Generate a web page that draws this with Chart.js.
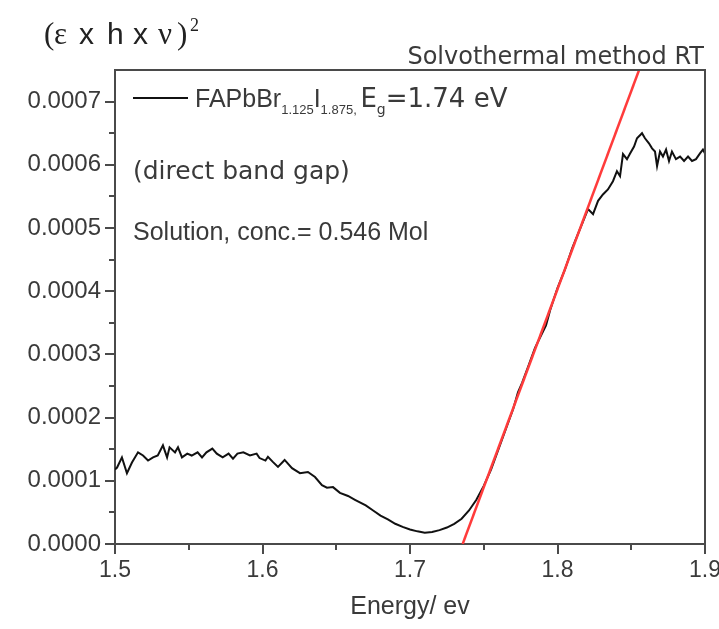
<!DOCTYPE html>
<html>
<head>
<meta charset="utf-8">
<script src="https://cdn.jsdelivr.net/npm/chart.js@4.4.1/dist/chart.umd.min.js"></script>
<style>
  html, body { margin: 0; padding: 0; background: #fff; }
  #wrap { width: 719px; height: 629px; }
</style>
</head>
<body>
<div id="wrap"><canvas id="c" width="719" height="629"></canvas></div>
<script>
// ---------- data ----------
const energy = [
  1.5000, 1.5014, 1.5047, 1.5081, 1.5115, 1.5156, 1.5190, 1.5224, 1.5258, 1.5290,
  1.5325, 1.5353, 1.5370, 1.5407, 1.5427, 1.5454, 1.5490, 1.5520, 1.5560, 1.5590,
  1.5620, 1.5660, 1.5690, 1.5730, 1.5770, 1.5800, 1.5830, 1.5870, 1.5915, 1.5960,
  1.5980, 1.6020, 1.6037, 1.6070, 1.6105, 1.6150, 1.6200, 1.6254, 1.6308, 1.6356,
  1.6403, 1.6437, 1.6478, 1.6525, 1.6580, 1.6627, 1.6700, 1.6750, 1.6800, 1.6850,
  1.6900, 1.6950, 1.7000, 1.7050, 1.7100, 1.7150, 1.7200, 1.7250, 1.7300, 1.7350,
  1.7400, 1.7450, 1.7500, 1.7550, 1.7600, 1.7650, 1.7700, 1.7732, 1.7760, 1.7800,
  1.7847, 1.7880, 1.7922, 1.7950, 1.8000, 1.8050, 1.8100, 1.8150, 1.8207, 1.8241,
  1.8275, 1.8308, 1.8342, 1.8376, 1.8403, 1.8424, 1.8444, 1.8471, 1.8492, 1.8519,
  1.8539, 1.8573, 1.8593, 1.8620, 1.8641, 1.8661, 1.8675, 1.8695, 1.8715, 1.8736,
  1.8756, 1.8776, 1.8803, 1.8831, 1.8858, 1.8885, 1.8912, 1.8939, 1.8966, 1.8986,
  1.9000
];
const absorption = [
  0.000118, 0.000121, 0.000137, 0.000112, 0.000129, 0.000145, 0.000140, 0.000132, 0.000137, 0.000140,
  0.000156, 0.000137, 0.000153, 0.000145, 0.000153, 0.000137, 0.000143, 0.000140, 0.000145, 0.000137,
  0.000145, 0.000151, 0.000143, 0.000137, 0.000143, 0.000135, 0.000143, 0.000145, 0.000140, 0.000143,
  0.000136, 0.000132, 0.000138, 0.000130, 0.000122, 0.000133, 0.000120, 0.000112, 0.000114, 0.000106,
  0.000093, 0.000089, 0.000090, 0.000081, 0.000076, 0.000070, 0.000061, 0.000053, 0.000045, 0.000039,
  0.000032, 0.000027, 0.000023, 0.000020, 0.000018, 0.000019, 0.000022, 0.000026, 0.000032, 0.000040,
  0.000053, 0.000070, 0.000092, 0.000118, 0.000150, 0.000182, 0.000214, 0.000240, 0.000255, 0.000280,
  0.000310, 0.000326, 0.000346, 0.000370, 0.000405, 0.000434, 0.000468, 0.000497, 0.000530, 0.000522,
  0.000543, 0.000553, 0.000561, 0.000574, 0.000590, 0.000582, 0.000617, 0.000609, 0.000618, 0.000629,
  0.000642, 0.000650, 0.000642, 0.000634, 0.000626, 0.000621, 0.000598, 0.000621, 0.000613, 0.000624,
  0.000606, 0.000621, 0.000609, 0.000613, 0.000606, 0.000613, 0.000606, 0.000609, 0.000618, 0.000624,
  0.000618
];
// linear fit (Tauc extrapolation), endpoints
const fitEnergy = [1.7357, 1.8553];
const fitValue = [0.0, 0.00075];

const xTicks = [1.5, 1.6, 1.7, 1.8, 1.9];
const xMinorTicks = [1.55, 1.65, 1.75, 1.85];
const yTicks = [0.0, 0.0001, 0.0002, 0.0003, 0.0004, 0.0005, 0.0006, 0.0007];
const yMinorTicks = [0.00005, 0.00015, 0.00025, 0.00035, 0.00045, 0.00055, 0.00065];

const xTitle = 'Energy/ ev';
const textLabel1 = '(direct band gap)';
const textLabel2 = 'Solution, conc.= 0.546 Mol';
const methodLabel = 'Solvothermal method RT';

// ---------- chart ----------
const AX = '#4a4a4a';
const TXT = '#3a3a3a';

const curve = energy.map((e, i) => ({ x: e, y: absorption[i] }));
const fit = fitEnergy.map((e, i) => ({ x: e, y: fitValue[i] }));

const decor = {
  id: 'decor',
  afterDraw(chart) {
    const ctx = chart.ctx;
    const a = chart.chartArea;
    const xs = chart.scales.x, ys = chart.scales.y;
    ctx.save();
    // frame top & right
    ctx.strokeStyle = AX;
    ctx.lineWidth = 2;
    ctx.beginPath();
    ctx.moveTo(a.left, a.top);
    ctx.lineTo(a.right, a.top);
    ctx.lineTo(a.right, a.bottom);
    ctx.stroke();
    // minor ticks
    ctx.beginPath();
    xMinorTicks.forEach(v => {
      const px = Math.round(xs.getPixelForValue(v));
      ctx.moveTo(px, a.bottom); ctx.lineTo(px, a.bottom + 6);
    });
    yMinorTicks.forEach(v => {
      const py = Math.round(ys.getPixelForValue(v));
      ctx.moveTo(a.left, py); ctx.lineTo(a.left - 6, py);
    });
    ctx.stroke();

    // y-axis title (ε x h x ν)^2
    ctx.fillStyle = '#222';
    ctx.textBaseline = 'alphabetic';
    ctx.textAlign = 'left';
    const serif = '31px "Liberation Serif", "Times New Roman", serif';
    const sans = '30px "Liberation Sans", Arial, sans-serif';
    const parts = [
      ['(', serif, 44], ['ε', serif, 54], ['x', sans, 79], ['h', sans, 107],
      ['x', sans, 133], ['ν', serif, 158], [')', serif, 177]
    ];
    parts.forEach(p => { ctx.font = p[1]; ctx.fillText(p[0], p[2], 44); });
    ctx.font = '18px "Liberation Serif", serif';
    ctx.fillText('2', 190, 31);

    // method label
    ctx.fillStyle = TXT;
    ctx.font = '24px "DejaVu Sans", Verdana, sans-serif';
    ctx.textAlign = 'right';
    ctx.fillText(methodLabel, 704, 64);

    // legend
    ctx.textAlign = 'left';
    ctx.strokeStyle = '#111';
    ctx.lineWidth = 2;
    ctx.beginPath();
    ctx.moveTo(133, 98); ctx.lineTo(188, 98);
    ctx.stroke();
    let x = 195;
    const big = '25px "Liberation Sans", Arial, sans-serif';
    const small = '13px "Liberation Sans", Arial, sans-serif';
    const dvBig = '26px "DejaVu Sans", Verdana, sans-serif';
    const dvSmall = '14px "DejaVu Sans", Verdana, sans-serif';
    const runs = [
      ['FAPbBr', big, 107], ['1.125', small, 114], ['I', big, 107], ['1.875', small, 114],
      [', ', small, 114], ['E', dvBig, 107], ['g', dvSmall, 114], ['=1.74 eV', dvBig, 107]
    ];
    runs.forEach(r => {
      ctx.font = r[1];
      ctx.fillText(r[0], x, r[2]);
      x += ctx.measureText(r[0]).width;
    });

    ctx.font = '25px "DejaVu Sans", Verdana, sans-serif';
    ctx.fillText(textLabel1, 133, 179);
    ctx.font = '25px "Liberation Sans", Arial, sans-serif';
    ctx.fillText(textLabel2, 133, 240);
    ctx.restore();
  }
};

new Chart(document.getElementById('c'), {
  type: 'scatter',
  data: {
    datasets: [
      {
        data: curve, showLine: true, borderColor: '#111', borderWidth: 2,
        pointRadius: 0, tension: 0, order: 2
      },
      {
        data: fit, showLine: true, borderColor: '#ff3b3b', borderWidth: 2.5,
        pointRadius: 0, tension: 0, order: 1
      }
    ]
  },
  options: {
    responsive: false,
    animation: false,
    devicePixelRatio: 1,
    layout: { padding: { left: 0, top: 70, right: 14, bottom: 0 } },
    plugins: { legend: { display: false }, tooltip: { enabled: false } },
    scales: {
      x: {
        type: 'linear', min: 1.5, max: 1.9,
        afterFit(s) { s.height = 85; s.paddingRight = 0; s.paddingLeft = 0; },
        afterBuildTicks(s) { s.ticks = xTicks.map(v => ({ value: v })); },
        ticks: {
          autoSkip: false, maxRotation: 0,
          callback: v => Number(v).toFixed(1),
          font: { family: '"Liberation Sans", Arial, sans-serif', size: 23 },
          color: TXT, padding: 3
        },
        grid: { drawOnChartArea: false, drawTicks: true, tickLength: 10, color: AX, lineWidth: 2 },
        border: { display: true, color: AX, width: 2 },
        title: {
          display: true, text: xTitle, color: TXT,
          font: { family: '"Liberation Sans", Arial, sans-serif', size: 25 },
          padding: { top: 4, bottom: 7 }
        }
      },
      y: {
        type: 'linear', min: 0, max: 0.00075,
        afterFit(s) { s.width = 115; },
        afterBuildTicks(s) { s.ticks = yTicks.map(v => ({ value: v })); },
        ticks: {
          autoSkip: false,
          callback: v => Number(v).toFixed(4),
          font: { family: '"Liberation Sans", Arial, sans-serif', size: 24 },
          color: TXT, padding: 4
        },
        grid: { drawOnChartArea: false, drawTicks: true, tickLength: 10, color: AX, lineWidth: 2 },
        border: { display: true, color: AX, width: 2 }
      }
    }
  },
  plugins: [decor]
});
</script>
</body>
</html>
